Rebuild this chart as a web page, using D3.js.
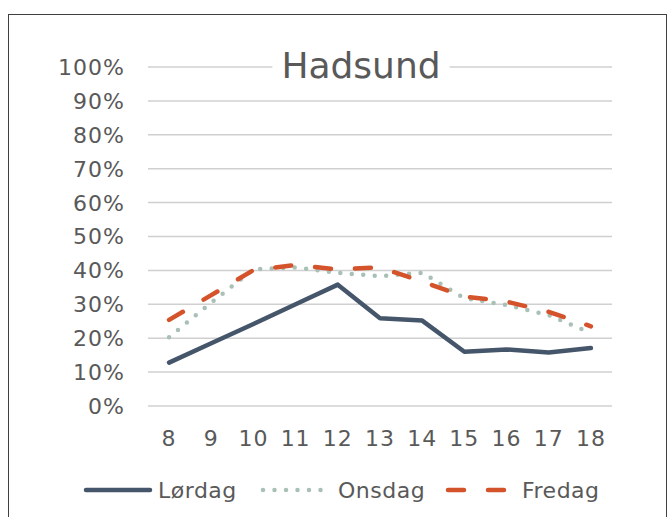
<!DOCTYPE html>
<html>
<head>
<meta charset="utf-8">
<script src="https://cdn.jsdelivr.net/npm/d3@7"></script>
<style>
  body { margin: 0; background: #fff; }
  text { font-family: "DejaVu Sans", Verdana, sans-serif; fill: #595959; }
</style>
</head>
<body>
<div id="chart"></div>
<script>
const width = 670;
const height = 517;

// data
const hours = [8, 9, 10, 11, 12, 13, 14, 15, 16, 17, 18];
const lordag = [0.128, 0.185, 0.242, 0.30, 0.358, 0.259, 0.252, 0.16, 0.167, 0.158, 0.171];
const onsdag = [0.203, 0.305, 0.403, 0.409, 0.393, 0.383, 0.393, 0.318, 0.298, 0.268, 0.215];
const fredag = [0.254, 0.327, 0.401, 0.416, 0.403, 0.409, 0.367, 0.323, 0.308, 0.278, 0.235];
const yTicks = [0, 0.1, 0.2, 0.3, 0.4, 0.5, 0.6, 0.7, 0.8, 0.9, 1];
const seriesNames = ["Lørdag", "Onsdag", "Fredag"];

const series = [
  {name: seriesNames[0], values: lordag, color: "#46566a", dash: null},
  {name: seriesNames[1], values: onsdag, color: "#a9c0b6", dash: "0,11.5"},
  {name: seriesNames[2], values: fredag, color: "#d4532b", dash: "16,24"}
];

const svg = d3.select("#chart")
  .append("svg")
    .attr("width", width)
    .attr("height", height);

// outer frame
svg.append("rect")
  .attr("x", 8.5)
  .attr("y", 14.5)
  .attr("width", 658)
  .attr("height", 520)
  .attr("fill", "#fff")
  .attr("stroke", "#404040")
  .attr("stroke-width", 1);

/* ---------------- scales ---------------- */
const x = d3.scaleBand()
  .domain(hours)
  .range([148, 612]);

const y = d3.scaleLinear()
  .domain([0, 1])
  .range([406, 67]);

const xc = d => x(d) + x.bandwidth() / 2;

// gridlines
svg.append("g")
  .selectAll("line")
  .data(yTicks)
  .join("line")
    .attr("x1", 148)
    .attr("x2", 612)
    .attr("y1", d => y(d))
    .attr("y2", d => y(d))
    .attr("stroke", "#d0d0d0")
    .attr("stroke-width", 1.5);

// y labels
svg.append("g")
  .selectAll("text")
  .data(yTicks)
  .join("text")
    .attr("x", 125)
    .attr("y", d => y(d))
    .attr("dy", "0.36em")
    .attr("text-anchor", "end")
    .style("font-size", "22px")
    .style("letter-spacing", "1px")
    .text(d => d3.format(".0%")(d));

// x labels
svg.append("g")
  .selectAll("text")
  .data(hours)
  .join("text")
    .attr("x", d => xc(d))
    .attr("y", 446)
    .attr("text-anchor", "middle")
    .style("font-size", "22px")
    .style("letter-spacing", "1px")
    .text(d => d);

/* ---------------- title ---------------- */
const titleBg = svg.append("rect").attr("fill", "#fff");
const title = svg.append("text")
  .attr("x", 361)
  .attr("y", 78)
  .attr("text-anchor", "middle")
  .style("font-size", "36px")
  .text("Hadsund");
const tb = title.node().getBBox();
titleBg
  .attr("x", tb.x - 9)
  .attr("y", tb.y)
  .attr("width", tb.width + 18)
  .attr("height", tb.height);

/* ---------------- lines ---------------- */
const line = d3.line()
  .x((d, i) => xc(hours[i]))
  .y(d => y(d));

svg.append("g")
  .selectAll("path")
  .data(series)
  .join("path")
    .attr("d", d => line(d.values))
    .attr("fill", "none")
    .attr("stroke", d => d.color)
    .attr("stroke-width", 4.5)
    .attr("stroke-linecap", "round")
    .attr("stroke-linejoin", "round")
    .attr("stroke-dasharray", d => d.dash);

/* ---------------- legend ---------------- */
const legendItems = [
  {lx: 86, tx: 158},
  {lx: 263, tx: 338},
  {lx: 448, tx: 522}
];
const legend = svg.append("g").attr("class", "legend");
series.forEach(function (s, i) {
  const it = legendItems[i];
  legend.append("line")
    .attr("x1", it.lx)
    .attr("x2", it.lx + 64)
    .attr("y1", 490)
    .attr("y2", 490)
    .attr("stroke", s.color)
    .attr("stroke-width", 4.5)
    .attr("stroke-linecap", "round")
    .attr("stroke-dasharray", s.dash);
  legend.append("text")
    .attr("x", it.tx)
    .attr("y", 490)
    .attr("dy", "0.36em")
    .style("font-size", "22px")
    .style("letter-spacing", "0.5px")
    .text(s.name);
});
</script>
</body>
</html>
